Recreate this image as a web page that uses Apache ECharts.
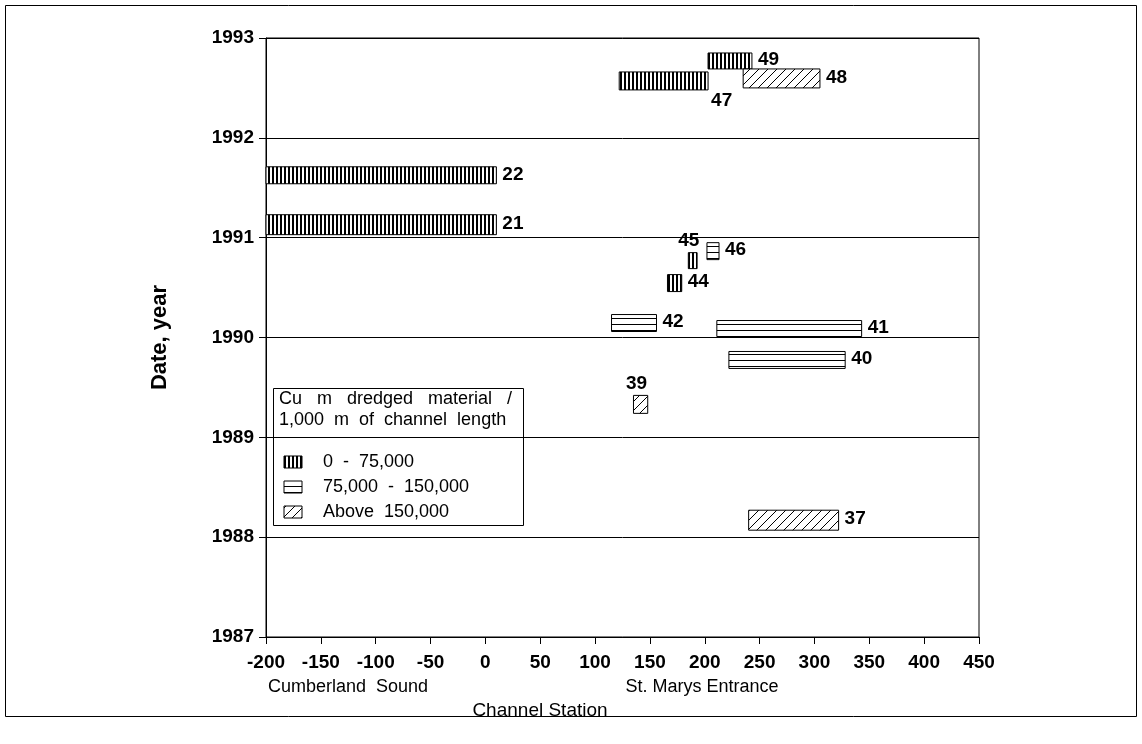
<!DOCTYPE html>
<html>
<head>
<meta charset="utf-8">
<script src="https://cdn.jsdelivr.net/npm/echarts@6/dist/echarts.min.js"></script>
<style>
  html, body { margin: 0; padding: 0; background: #fff; }
  #chart { width: 1142px; height: 744px; }
</style>
</head>
<body>
<div id="chart"></div>
<script>
// dredging events: channel station range and date range
const eventIds     = [49, 47, 48, 22, 21, 46, 45, 44, 42, 41, 40, 39, 37];
const stationFrom  = [203, 122, 235, -200, -200, 202, 185, 166, 115, 211, 222, 135, 240];
const stationTo    = [243, 203, 305, 10, 10, 213, 193, 179, 156, 343, 328, 148, 322];
const dateFrom     = [1992.69, 1992.48, 1992.50, 1991.54, 1991.03, 1990.78, 1990.69, 1990.46, 1990.06, 1990.01, 1989.69, 1989.24, 1988.07];
const dateTo       = [1992.85, 1992.66, 1992.69, 1991.71, 1991.23, 1990.95, 1990.85, 1990.63, 1990.23, 1990.17, 1989.86, 1989.42, 1988.27];
// 0 = 0-75,000 ; 1 = 75,000-150,000 ; 2 = above 150,000
const volumeClass  = [0, 0, 2, 0, 0, 1, 0, 0, 1, 1, 1, 2, 2];
const classNames   = ['0  -  75,000', '75,000  -  150,000', 'Above  150,000'];
const yearTicks    = [1987, 1988, 1989, 1990, 1991, 1992, 1993];
const stationTicks = [-200, -150, -100, -50, 0, 50, 100, 150, 200, 250, 300, 350, 400, 450];

const FONT = '"Liberation Sans", Arial, sans-serif';

// hatch patterns
function makePattern(kind) {
  const c = document.createElement('canvas');
  const ctx = c.getContext('2d');
  if (kind === 0) {
    c.width = 4; c.height = 4;
    ctx.fillStyle = '#fff'; ctx.fillRect(0, 0, 4, 4);
    ctx.fillStyle = '#000'; ctx.fillRect(0, 0, 2, 4);
  } else if (kind === 1) {
    c.width = 4; c.height = 6;
    ctx.fillStyle = '#fff'; ctx.fillRect(0, 0, 4, 6);
    ctx.fillStyle = '#000'; ctx.fillRect(0, 0, 4, 1);
  } else {
    c.width = 9; c.height = 9;
    ctx.fillStyle = '#fff'; ctx.fillRect(0, 0, 9, 9);
    ctx.strokeStyle = '#000'; ctx.lineWidth = 1;
    ctx.beginPath();
    ctx.moveTo(-1, 10); ctx.lineTo(10, -1);
    ctx.moveTo(-1, 1); ctx.lineTo(1, -1);
    ctx.moveTo(8, 10); ctx.lineTo(10, 8);
    ctx.stroke();
  }
  return { image: c, repeat: 'repeat' };
}
const patterns = [makePattern(0), makePattern(1), makePattern(2)];

// label placement for a few events
const labelPlace = { 47: 'belowRight', 45: 'top', 39: 'top' };

const rows = eventIds.map((id, i) => [stationFrom[i], stationTo[i], dateFrom[i], dateTo[i], volumeClass[i], id]);

function renderItem(params, api) {
  const tl = api.coord([api.value(0), api.value(3)]);
  const br = api.coord([api.value(1), api.value(2)]);
  const cls = api.value(4);
  const id = api.value(5);
  const x = tl[0], y = tl[1], w = br[0] - tl[0], h = br[1] - tl[1];
  let lx = br[0] + 6, ly = y + h / 2 - 1, align = 'left';
  const place = labelPlace[id];
  if (place === 'belowRight') { lx = br[0] + 3; ly = br[1] + 11; }
  else if (place === 'top') { lx = x + w / 2 - 4; ly = y - 12; align = 'center'; }
  return {
    type: 'group',
    children: [
      {
        type: 'rect',
        shape: { x: x, y: y, width: w, height: h },
        style: { fill: patterns[cls], stroke: '#000', lineWidth: 1 }
      },
      {
        type: 'text',
        style: {
          text: String(id), x: lx, y: ly, align: align, verticalAlign: 'middle',
          fill: '#000', fontSize: 19, fontWeight: 'bold', fontFamily: FONT
        }
      }
    ]
  };
}

const chart = echarts.init(document.getElementById('chart'));

const rowY = [462, 487, 512];
const legendIcons = [0, 1, 2].map(k => ({
  type: 'rect',
  shape: { x: 284, y: rowY[k] - 6, width: 18, height: 12 },
  style: { fill: patterns[k], stroke: '#000', lineWidth: 1 }
}));
const legendTexts = classNames.map((t, k) => ({
  type: 'text',
  style: { text: t, x: 323, y: rowY[k], verticalAlign: 'middle', fill: '#000', fontSize: 18, fontFamily: FONT }
}));

const option = {
  animation: false,
  backgroundColor: '#fff',
  grid: { left: 266, right: 163, top: 38, bottom: 107, show: true, borderColor: '#000', borderWidth: 1 },
  xAxis: {
    type: 'value', min: -200, max: 450, interval: 50,
    axisLine: { show: true, onZero: false, lineStyle: { color: '#000', width: 1 } },
    axisTick: { show: true, length: 7, lineStyle: { color: '#000' } },
    axisLabel: {
      margin: 16, color: '#000', fontSize: 19, fontWeight: 'bold', fontFamily: FONT,
      formatter: v => stationTicks.includes(v) ? String(v) : ''
    },
    splitLine: { show: false }
  },
  yAxis: {
    type: 'value', min: 1987, max: 1993, interval: 1,
    axisLine: { show: true, onZero: false, lineStyle: { color: '#000', width: 1 } },
    axisTick: { show: true, length: 7, lineStyle: { color: '#000' } },
    axisLabel: {
      margin: 12, color: '#000', fontSize: 19, fontWeight: 'bold', fontFamily: FONT,
      formatter: v => yearTicks.includes(v) ? String(v) : ''
    },
    splitLine: { show: true, lineStyle: { color: '#000', width: 1 } },
    name: 'Date, year', nameLocation: 'middle', nameGap: 95, nameRotate: 90,
    nameTextStyle: { color: '#000', fontSize: 22, fontWeight: 'bold', fontFamily: FONT }
  },
  series: [{
    type: 'custom',
    renderItem: renderItem,
    clip: false,
    encode: { x: [0, 1], y: [2, 3] },
    data: rows
  }],
  graphic: [
    { type: 'rect', shape: { x: 5.5, y: 5.5, width: 1131, height: 711 }, style: { fill: 'none', stroke: '#000', lineWidth: 1 }, silent: true },
    { type: 'text', style: { text: 'Cumberland  Sound', x: 348, y: 687, align: 'center', verticalAlign: 'middle', fill: '#000', fontSize: 18, fontFamily: FONT } },
    { type: 'text', style: { text: 'St. Marys Entrance', x: 702, y: 687, align: 'center', verticalAlign: 'middle', fill: '#000', fontSize: 18, fontFamily: FONT } },
    { type: 'text', style: { text: 'Channel Station', x: 540, y: 711, align: 'center', verticalAlign: 'middle', fill: '#000', fontSize: 19, fontFamily: FONT } },
    { type: 'rect', shape: { x: 273.5, y: 388.5, width: 250, height: 137 }, style: { fill: 'none', stroke: '#000', lineWidth: 1 } },
    { type: 'text', style: { text: 'Cu   m   dredged   material   /', x: 279, y: 399, verticalAlign: 'middle', fill: '#000', fontSize: 18, fontFamily: FONT } },
    { type: 'text', style: { text: '1,000  m  of  channel  length', x: 279, y: 420, verticalAlign: 'middle', fill: '#000', fontSize: 18, fontFamily: FONT } }
  ].concat(legendIcons, legendTexts)
};

chart.setOption(option);
</script>
</body>
</html>
